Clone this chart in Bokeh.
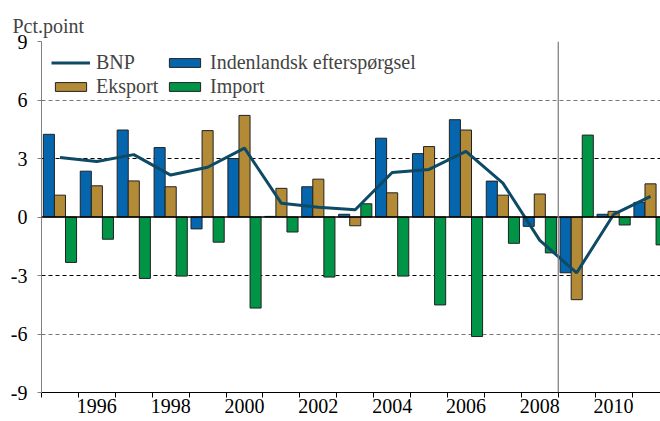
from bokeh.plotting import figure
from bokeh.models import (ColumnDataSource, Legend, LegendItem, Span, FixedTicker,
                          Grid, Title, Range1d)
from bokeh.transform import dodge
from bokeh.embed import file_html
from bokeh.resources import INLINE

years = list(range(1995, 2012))
bnp = [3.05, 2.85, 3.2, 2.15, 2.55, 3.53, 0.7, 0.5, 0.37, 2.28, 2.44, 3.37, 1.74, -1.2, -2.86, 0.13, 1.06]
indenlandsk = [4.24, 2.35, 4.46, 3.56, -0.61, 3.0, 0.03, 1.55, 0.14, 4.04, 3.25, 4.99, 1.84, -0.48, -2.86, 0.14, 0.75]
eksport = [1.12, 1.6, 1.85, 1.55, 4.43, 5.21, 1.47, 1.94, -0.45, 1.24, 3.61, 4.46, 1.12, 1.18, -4.24, 0.29, 1.7]
importv = [-2.33, -1.14, -3.15, -3.03, -1.29, -4.67, -0.77, -3.08, 0.68, -3.03, -4.51, -6.13, -1.35, -1.84, 4.2, -0.41, -1.43]
y_ticks = [-9, -6, -3, 0, 3, 6, 9]
x_label_years = [1996, 1998, 2000, 2002, 2004, 2006, 2008, 2010]
labels = ["BNP", "Indenlandsk efterspørgsel", "Eksport", "Import"]

FONT = "'Liberation Serif'"
FS = "20px"
C_BLUE = "#0566AE"
C_TAN = "#B38A36"
C_GREEN = "#009447"
C_LINE = "#0C4A66"

src = ColumnDataSource(dict(year=years, bnp=bnp, ind=indenlandsk, eks=eksport, imp=importv))

p = figure(frame_width=619, frame_height=351, output_backend="svg", toolbar_location=None,
           x_range=Range1d(1994.5, 2011.27), y_range=Range1d(-9, 9),
           min_border_left=41, min_border_right=0, min_border_top=41, min_border_bottom=27)
p.outline_line_color = None
p.background_fill_color = "white"
p.xgrid.visible = False
p.ygrid.visible = False

# gridlines
g_black = Grid(dimension=1, ticker=FixedTicker(ticks=[-3, 3]),
               grid_line_color="black", grid_line_dash="4 3", grid_line_width=1)
g_gray = Grid(dimension=1, ticker=FixedTicker(ticks=[-6, 6, 9]),
              grid_line_color="#777777", grid_line_dash="4 3", grid_line_width=1.2)
p.add_layout(g_black)
p.add_layout(g_gray)

bw = 0.3
r_ind = p.vbar(x=dodge("year", -0.3, range=p.x_range), top="ind", width=bw, source=src,
               fill_color=C_BLUE, line_color="#222222", line_width=1)
r_eks = p.vbar(x="year", top="eks", width=bw, source=src,
               fill_color=C_TAN, line_color="#222222", line_width=1)
r_imp = p.vbar(x=dodge("year", 0.3, range=p.x_range), top="imp", width=bw, source=src,
               fill_color=C_GREEN, line_color="#222222", line_width=1)

p.add_layout(Span(location=0, dimension="width", line_color="black", line_width=1.5))
p.add_layout(Span(location=2008.5, dimension="height", line_color="#7a7a7a", line_width=1.2))

r_bnp = p.line("year", "bnp", source=src, line_color=C_LINE, line_width=3)

# axes
p.yaxis.ticker = FixedTicker(ticks=y_ticks)
p.yaxis.major_label_overrides = {t: str(t) for t in y_ticks}
p.yaxis.axis_line_color = "#808080"
p.yaxis.major_tick_line_color = "#808080"
p.yaxis.major_tick_out = 4
p.yaxis.major_tick_in = 0
p.yaxis.minor_tick_line_color = None
p.yaxis.major_label_standoff = 10
p.yaxis.major_label_text_font = FONT
p.yaxis.major_label_text_font_size = FS
p.yaxis.major_label_text_color = "black"

p.xaxis.ticker = FixedTicker(ticks=x_label_years,
                             minor_ticks=[y + 0.5 for y in [1994] + years])
p.xaxis.axis_line_color = "black"
p.xaxis.major_tick_line_color = None
p.xaxis.major_tick_out = 0
p.xaxis.major_tick_in = 0
p.xaxis.minor_tick_line_color = "black"
p.xaxis.minor_tick_out = 5
p.xaxis.minor_tick_in = 0
p.xaxis.major_label_standoff = 1
p.xaxis.major_label_text_font = FONT
p.xaxis.major_label_text_font_size = FS
p.xaxis.major_label_text_color = "black"

p.title = Title(text="Pct.point", text_font=FONT, text_font_size=FS,
                text_font_style="normal", align="left", offset=-29, standoff=10)

legend = Legend(items=[LegendItem(label=labels[0], renderers=[r_bnp]),
                       LegendItem(label=labels[2], renderers=[r_eks]),
                       LegendItem(label=labels[1], renderers=[r_ind]),
                       LegendItem(label=labels[3], renderers=[r_imp])],
                ncols=2, location="top_left", margin=10, padding=10,
                spacing=1, glyph_width=39, glyph_height=11, label_standoff=6,
                label_width=68,
                label_text_font=FONT, label_text_font_size=FS,
                background_fill_alpha=0, border_line_color=None)
p.add_layout(legend, "center")

open("out.html", "w").write(file_html(p, INLINE))
